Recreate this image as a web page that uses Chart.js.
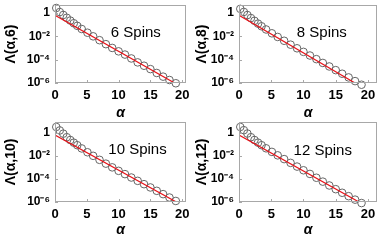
<!DOCTYPE html>
<html>
<head>
<meta charset="utf-8">
<script src="https://cdn.jsdelivr.net/npm/chart.js@4"></script>
<style>
  body { margin: 0; background: #fff; }
  #wrap { position: relative; width: 382px; height: 241px; overflow: hidden; }
  .panel { position: absolute; }
</style>
</head>
<body>
<div id="wrap">
  <div class="panel" style="left:0;top:0;width:191px;height:120px"><canvas id="p6"></canvas></div>
  <div class="panel" style="left:191px;top:0;width:191px;height:120px"><canvas id="p8"></canvas></div>
  <div class="panel" style="left:0;top:117px;width:191px;height:124px"><canvas id="p10"></canvas></div>
  <div class="panel" style="left:191px;top:117px;width:191px;height:124px"><canvas id="p12"></canvas></div>
</div>
<script>
// alpha values of the circles (same for all panels)
const alpha = [0.2, 0.75, 1.3, 1.85, 2.4, 2.95, 3.5, 4.2, 5.1, 6, 7, 8, 9, 10, 11, 12, 13, 14, 15, 16, 17, 18, 19];

const spins6  = [2.6, 1.17, 0.66, 0.38, 0.219, 0.129, 0.0776, 0.0417, 0.020, 0.0098, 4.6e-3, 2.1e-3, 1.0e-3, 5.1e-4, 2.7e-4, 1.26e-4, 5.8e-5, 3.0e-5, 1.55e-5, 7.2e-6, 3.5e-6, 1.8e-6, 9.5e-7];
const spins8  = [2.2, 1.2, 0.65, 0.36, 0.209, 0.12, 0.071, 0.038, 0.0178, 8.7e-3, 4.1e-3, 1.9e-3, 9.3e-4, 4.6e-4, 2.24e-4, 1.1e-4, 5.2e-5, 2.6e-5, 1.26e-5, 6.2e-6, 3.0e-6, 1.45e-6, 7.1e-7];
const spins10 = [3.16, 1.58, 0.83, 0.41, 0.234, 0.138, 0.083, 0.0437, 0.0204, 0.01, 4.5e-3, 2.1e-3, 1.0e-3, 5.0e-4, 2.6e-4, 1.32e-4, 6.8e-5, 3.5e-5, 1.82e-5, 9.3e-6, 4.8e-6, 2.45e-6, 1.23e-6];
const spins12 = [3.16, 1.66, 0.85, 0.41, 0.234, 0.138, 0.083, 0.0447, 0.0219, 0.011, 5.2e-3, 2.45e-3, 1.17e-3, 5.6e-4, 2.7e-4, 1.26e-4, 5.8e-5, 2.7e-5, 1.29e-5, 6.3e-6, 3.2e-6, 1.6e-6, 8.1e-7];

// red fit lines (end points)
const fitAlpha = [0, 21];
const fit6  = [0.63, 2.1e-7];
const fit8  = [0.63, 1.07e-7];
const fit10 = [0.63, 2.6e-7];
const fit12 = [0.63, 1.8e-7];

const xTicks = [0, 5, 10, 15, 20];
const yTicks = [1e-6, 1e-4, 1e-2, 1];
const yTickLabels = ['10⁻⁶', '10⁻⁴', '10⁻²', '1'];

const panelLabels = ['6 Spins', '8 Spins', '10 Spins', '12 Spins'];
const yTitles = ['Λ(α,6)', 'Λ(α,8)', 'Λ(α,10)', 'Λ(α,12)'];

const FONT = "'Liberation Sans', Arial, sans-serif";

const framePlugin = {
  id: 'frame',
  afterDraw(chart) {
    const { ctx, chartArea: a, scales } = chart;
    ctx.save();
    ctx.strokeStyle = '#a8a8a8';
    ctx.lineWidth = 1;
    ctx.strokeRect(a.left + 0.5, a.top + 0.5, a.right - a.left - 1, a.bottom - a.top - 1);
    ctx.beginPath();
    xTicks.forEach(v => {
      const x = Math.round(scales.x.getPixelForValue(v)) + 0.5;
      ctx.moveTo(x, a.bottom); ctx.lineTo(x, a.bottom - 3);
    });
    yTicks.forEach(v => {
      const y = Math.round(scales.y.getPixelForValue(v)) + 0.5;
      ctx.moveTo(a.left, y); ctx.lineTo(a.left + 3, y);
    });
    ctx.stroke();
    const o = chart.options.plugins.frame;
    ctx.fillStyle = '#000';
    ctx.font = '15px ' + FONT;
    ctx.textAlign = 'center';
    ctx.textBaseline = 'middle';
    ctx.fillText(o.label, a.left + o.fx * (a.right - a.left), a.top + o.fy * (a.bottom - a.top));
    ctx.restore();
  }
};

function makePanel(id, values, fit, label, yTitle, cfg) {
  new Chart(document.getElementById(id), {
    type: 'scatter',
    data: {
      datasets: [
        {
          data: fitAlpha.map((a, i) => ({ x: a, y: fit[i] })),
          showLine: true,
          borderColor: '#e8141a',
          borderWidth: 1.2,
          pointRadius: 0
        },
        {
          data: alpha.map((a, i) => ({ x: a, y: values[i] })),
          pointStyle: 'circle',
          pointRadius: 3.8,
          pointBackgroundColor: 'rgba(0,0,0,0)',
          pointBorderColor: '#666',
          pointBorderWidth: 1,
          clip: false
        }
      ]
    },
    options: {
      responsive: true,
      maintainAspectRatio: false,
      animation: false,
      events: [],
      layout: { padding: { top: 1, right: 3, left: 0, bottom: 0 } },
      plugins: {
        legend: { display: false },
        tooltip: { enabled: false },
        frame: { label: label, fx: cfg.fx, fy: cfg.fy }
      },
      scales: {
        x: {
          type: 'linear',
          min: 0,
          max: cfg.xMax,
          afterBuildTicks: s => { s.ticks = xTicks.map(v => ({ value: v })); },
          afterFit: s => { s.height = cfg.xHeight; s.paddingLeft = 0; s.paddingRight = 0; },
          grid: { display: false, drawTicks: false },
          border: { display: false },
          ticks: { color: '#000', padding: 5, font: { family: FONT, size: 13, weight: 'bold' } },
          title: {
            display: true, text: 'α', color: '#000',
            padding: { top: 0, bottom: cfg.titlePad },
            font: { family: FONT, size: 14, weight: 'bold', style: 'italic', lineHeight: 1 }
          }
        },
        y: {
          type: 'logarithmic',
          min: 1e-6,
          max: cfg.yMax,
          afterBuildTicks: s => { s.ticks = yTicks.map(v => ({ value: v })); },
          afterFit: s => { s.width = cfg.yWidth; s.paddingTop = 0; s.paddingBottom = 0; },
          grid: { display: false, drawTicks: false },
          border: { display: false },
          ticks: {
            color: '#000', padding: 5,
            font: { family: FONT, size: 12, weight: 'bold' },
            callback: v => yTickLabels[yTicks.indexOf(v)] || ''
          },
          title: {
            display: true, text: yTitle, color: '#000',
            padding: { top: 3, bottom: 0 },
            font: { family: FONT, size: 14, weight: 'bold' }
          }
        }
      }
    },
    plugins: [framePlugin]
  });
}

makePanel('p6',  spins6,  fit6,  panelLabels[0], yTitles[0], { xMax: 20.6, yMax: 4.7, yWidth: 55, xHeight: 37, titlePad: 0, fx: 0.617, fy: 0.354 });
makePanel('p8',  spins8,  fit8,  panelLabels[1], yTitles[1], { xMax: 21.4, yMax: 4.7, yWidth: 48, xHeight: 37, titlePad: 0, fx: 0.6, fy: 0.354 });
makePanel('p10', spins10, fit10, panelLabels[2], yTitles[2], { xMax: 20.6, yMax: 8.5, yWidth: 55, xHeight: 39, titlePad: 4, fx: 0.63, fy: 0.345 });
makePanel('p12', spins12, fit12, panelLabels[3], yTitles[3], { xMax: 21.4, yMax: 8.5, yWidth: 48, xHeight: 39, titlePad: 4, fx: 0.607, fy: 0.357 });
</script>
</body>
</html>
